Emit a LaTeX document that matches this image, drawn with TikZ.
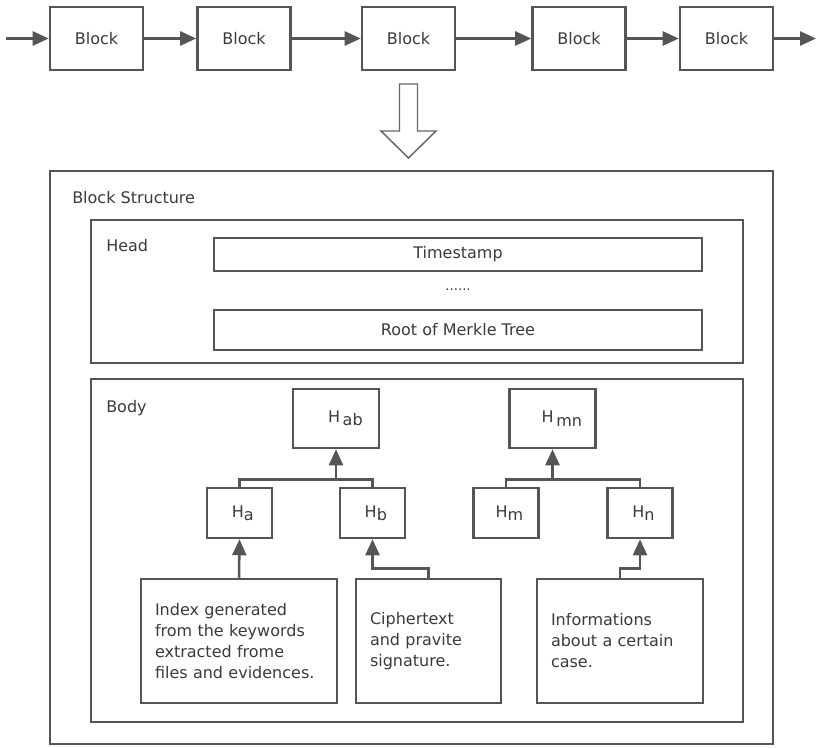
\documentclass[tikz,border=0pt]{standalone}
\usepackage{fontspec}
\setmainfont{DejaVu Sans}
\usetikzlibrary{arrows.meta}
\definecolor{linegray}{HTML}{555555}
\definecolor{textgray}{HTML}{3A3A3A}

\begin{document}
\begin{tikzpicture}[x=0.75pt,y=0.75pt,yscale=-1,xscale=1,
    font=\fontsize{12}{15.75}\selectfont, text=textgray,
    boxline/.style={draw=linegray,line width=1.9pt},
    blockbox/.style={boxline,minimum width=69.75pt,minimum height=47.25pt,inner sep=0pt},
    fieldbox/.style={boxline,minimum width=366pt,inner sep=0pt},
    hashbig/.style={boxline,minimum width=64.5pt,minimum height=44.25pt,inner sep=0pt},
    hashsmall/.style={boxline,minimum width=48.75pt,minimum height=37.5pt,inner sep=0pt},
    leafbox/.style={boxline,minimum height=93pt,inner xsep=10.5pt,align=left},
    conn/.style={draw=linegray,line width=1.9pt},
    arr/.style={conn,-{Triangle[length=12pt,width=10.5pt]}}]
        \useasboundingbox (0,0) rectangle (817,747);

        % Chain of blocks
        \node[blockbox] (b1) at (96.5,38.5) {Block};
        \node[blockbox] (b2) at (244,38.5) {Block};
        \node[blockbox] (b3) at (408.5,38.5) {Block};
        \node[blockbox] (b4) at (579,38.5) {Block};
        \node[blockbox] (b5) at (726.5,38.5) {Block};
        \coordinate (chainin) at (6,38.5);
        \coordinate (chainout) at (816,38.5);
        \foreach \a/\b in {chainin/b1,b1/b2,b2/b3,b3/b4,b4/b5,b5/chainout}
            \draw[arr] (\a) -- (\b);

        % Hollow arrow
        \draw[draw=linegray!90,line width=1.1pt,line join=miter] (399.5,84) -- (417.5,84) -- (417.5,131) -- (436,131) -- (408.5,158) -- (381,131) -- (399.5,131) -- cycle;

        % Block structure frames
        \draw[draw=linegray,line width=1.5pt] (50,171) rectangle (773,744);
        \draw[boxline] (91,220) rectangle (743,363);
        \draw[boxline] (91,379) rectangle (743,722);
        \node[anchor=west,inner sep=0pt] (structtitle) at (72,198) {Block Structure};
        \node[anchor=west,inner sep=0pt] (headtitle) at (106,246) {Head};
        \node[anchor=west,inner sep=0pt] (bodytitle) at (106,408) {Body};

        % Head fields
        \node[fieldbox,minimum height=24.75pt] (stamp) at (458,254.5) {Timestamp};
        \node[inner sep=0pt,font=\fontsize{10}{10}\selectfont] (dots) at (458,290) {......};
        \node[fieldbox,minimum height=30pt] (root) at (458,330) {Root of Merkle Tree};

        % Body: hashes
        \node[hashbig] (hab) at (336,418.5) {\hspace*{14pt}H\,\raisebox{-2.5pt}{ab}};
        \node[hashbig] (hmn) at (552.5,418.5) {\hspace*{14pt}H\,\raisebox{-2.5pt}{mn}};
        \node[hashsmall] (ha) at (239.5,513) {\hspace*{5pt}H\raisebox{-2.5pt}{a}};
        \node[hashsmall] (hb) at (372.5,513) {\hspace*{5pt}H\raisebox{-2.5pt}{b}};
        \node[hashsmall] (hm) at (506,513) {\hspace*{5pt}H\raisebox{-2.5pt}{m}};
        \node[hashsmall] (hn) at (640,513) {\hspace*{5pt}H\raisebox{-2.5pt}{n}};

        % Body: data
        \node[leafbox,text width=126pt] (index) at (239,641) {Index generated\\from the keywords\\extracted frome\\files and evidences.};
        \node[leafbox,text width=87.75pt] (cipher) at (428.5,641) {Ciphertext\\and pravite\\signature.};
        \node[leafbox,text width=103.5pt] (info) at (620,641) {Informations\\about a certain\\case.};

        % Tree connectors
        \path (hab.south) ++(0,30) coordinate (jab);
        \path (hmn.south) ++(0,30) coordinate (jmn);
        \draw[conn] (ha.north) |- (jab) -| (hb.north);
        \draw[conn] (hm.north) |- (jmn) -| (hn.north);
        \draw[arr] (jab) -- (hab.south);
        \draw[arr] (jmn) -- (hmn.south);
        \draw[arr] (index.north) -- (ha.south);
        \draw[arr] (cipher.north) -- ++(0,-9) -| (hb.south);
        \draw[arr] (info.north) -- ++(0,-9) -| (hn.south);
\end{tikzpicture}
\end{document}
